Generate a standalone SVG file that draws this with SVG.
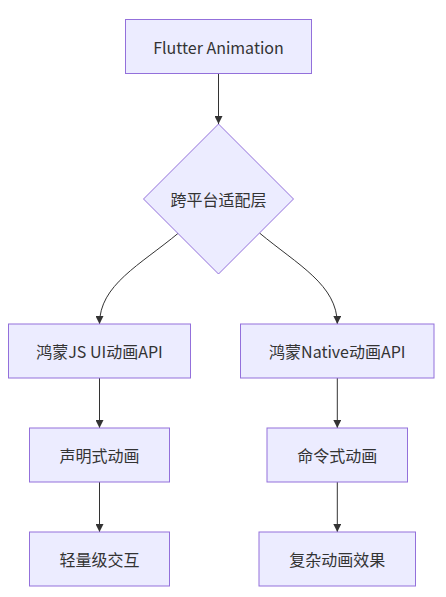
<svg xmlns="http://www.w3.org/2000/svg" width="446" height="597" viewBox="0 0 446 597">
<style>
.node rect,.node polygon{fill:#ECECFF;stroke:#9370DB;stroke-width:1px;}
.node text{font-family:"Noto Sans CJK SC","Noto Sans",sans-serif;font-size:16px;fill:#333333;text-anchor:middle;dominant-baseline:central;}
.edge{fill:none;stroke:#333333;stroke-width:1px;marker-end:url(#arrow);}
</style>
<defs>
<marker id="arrow" viewBox="0 0 10 10" refX="10" refY="5" markerUnits="userSpaceOnUse" markerWidth="8" markerHeight="8" orient="auto">
<path d="M0,0 L10,5 L0,10 z" fill="#333333"/>
</marker>
</defs>
<rect width="446" height="597" fill="#ffffff"/>
<g id="edges">
<path class="edge" d="M218.5,73.5 L218.5,124"/>
<path class="edge" d="M178.5,233 C140,265 99.5,285 99.5,324"/>
<path class="edge" d="M259.5,233 C298,265 337.3,285 337.3,324"/>
<path class="edge" d="M99.5,378 L99.5,428"/>
<path class="edge" d="M99.5,482 L99.5,532"/>
<path class="edge" d="M337.3,378 L337.3,428"/>
<path class="edge" d="M337.3,482 L337.3,532"/>
</g>
<g id="flutter" class="node">
<rect x="125.5" y="19.5" width="186" height="54"/>
<text x="218.5" y="46.5">Flutter Animation</text>
</g>
<g id="adapter" class="node">
<polygon points="218.5,124 293.5,199 218.5,274 143.5,199"/>
<text x="218.5" y="199">跨平台适配层</text>
</g>
<g id="jsapi" class="node">
<rect x="8.5" y="324" width="182" height="54"/>
<text x="99.5" y="351">鸿蒙JS UI动画API</text>
</g>
<g id="nativeapi" class="node">
<rect x="240.5" y="324" width="193.5" height="54"/>
<text x="337.3" y="351">鸿蒙Native动画API</text>
</g>
<g id="declarative" class="node">
<rect x="29.5" y="428" width="140" height="54"/>
<text x="99.5" y="455">声明式动画</text>
</g>
<g id="imperative" class="node">
<rect x="267" y="428" width="140.5" height="54"/>
<text x="337.3" y="455">命令式动画</text>
</g>
<g id="light" class="node">
<rect x="29.5" y="532" width="140" height="54"/>
<text x="99.5" y="559">轻量级交互</text>
</g>
<g id="complex" class="node">
<rect x="259" y="532" width="156.5" height="54"/>
<text x="337.3" y="559">复杂动画效果</text>
</g>
</svg>
